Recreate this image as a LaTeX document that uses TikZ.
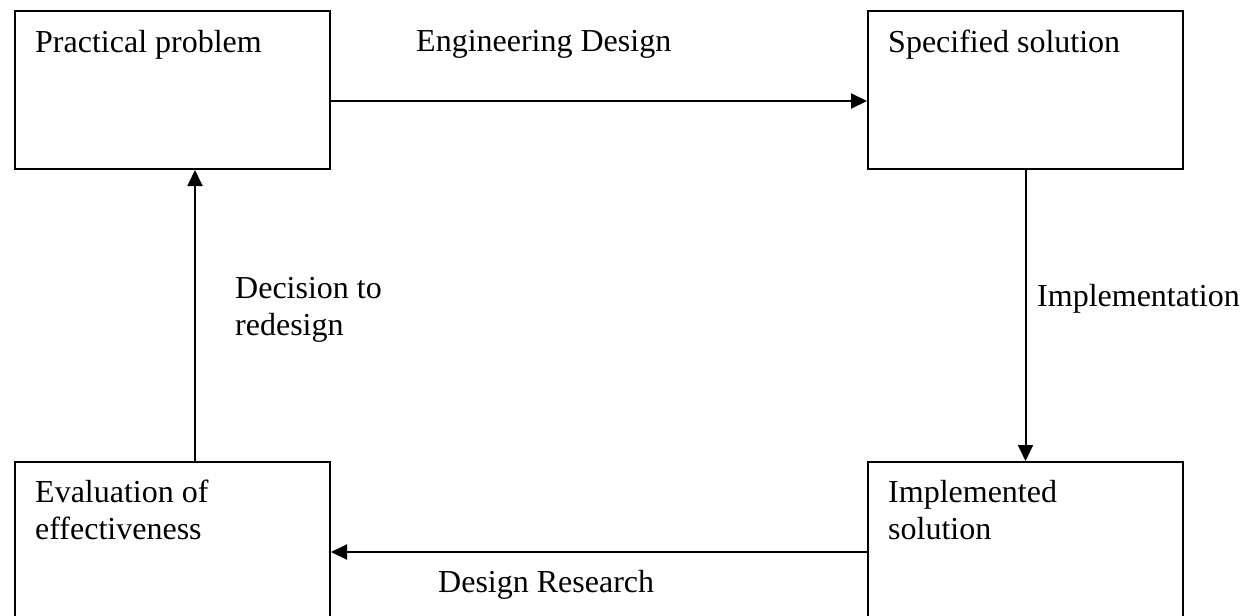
\documentclass[tikz,border=0pt]{standalone}
\usepackage{fontspec}
\setmainfont{Liberation Serif}
\usepackage{tikz}
\usetikzlibrary{arrows.meta}
\tikzstyle{arrow} = [-{Triangle[length=16pt,width=15pt]},line width=2pt]
\tikzstyle{block} = [draw,rectangle,line width=2pt,inner sep=0pt,anchor=north west,minimum width=315pt]
\tikzstyle{txt} = [anchor=base west,inner sep=0pt,align=left,font=\fontsize{32}{37}\selectfont]

\begin{document}
\begin{tikzpicture}[x=1pt,y=-1pt]
        \useasboundingbox (0,0) rectangle (1243,616);
        \clip (0,0) rectangle (1243,616);
        \node[block,minimum height=158pt] at (14, 10) (prob) {};
        \node[block,minimum height=158pt] at (867, 10) (spec) {};
        \node[block,minimum height=180pt] at (867, 461) (impl) {};
        \node[block,minimum height=180pt] at (14, 461) (eval) {};

        \node[txt] at (35, 52) (probtxt) {Practical problem};
        \node[txt] at (888, 52) (spectxt) {Specified solution};
        \node[txt] at (888, 539) (impltxt) {Implemented\\solution};
        \node[txt] at (35, 539) (evaltxt) {Evaluation of\\effectiveness};

        \node[txt] at (416, 51) (design) {Engineering Design};
        \node[txt] at (1037, 306) (implement) {Implementation};
        \node[txt] at (438, 592) (research) {Design Research};
        \node[txt] at (235, 335) (redesign) {Decision to\\redesign};

        \draw[arrow] ([yshift=-11pt]prob.east) -- ([yshift=-11pt]spec.west);
        \draw[arrow] (spec.south) -- (impl.north);
        \draw[arrow] (impl.west) -- (eval.east);
        \draw[arrow] ([xshift=22.5pt]eval.north) -- ([xshift=22.5pt]prob.south);
    \end{tikzpicture}
\end{document}
